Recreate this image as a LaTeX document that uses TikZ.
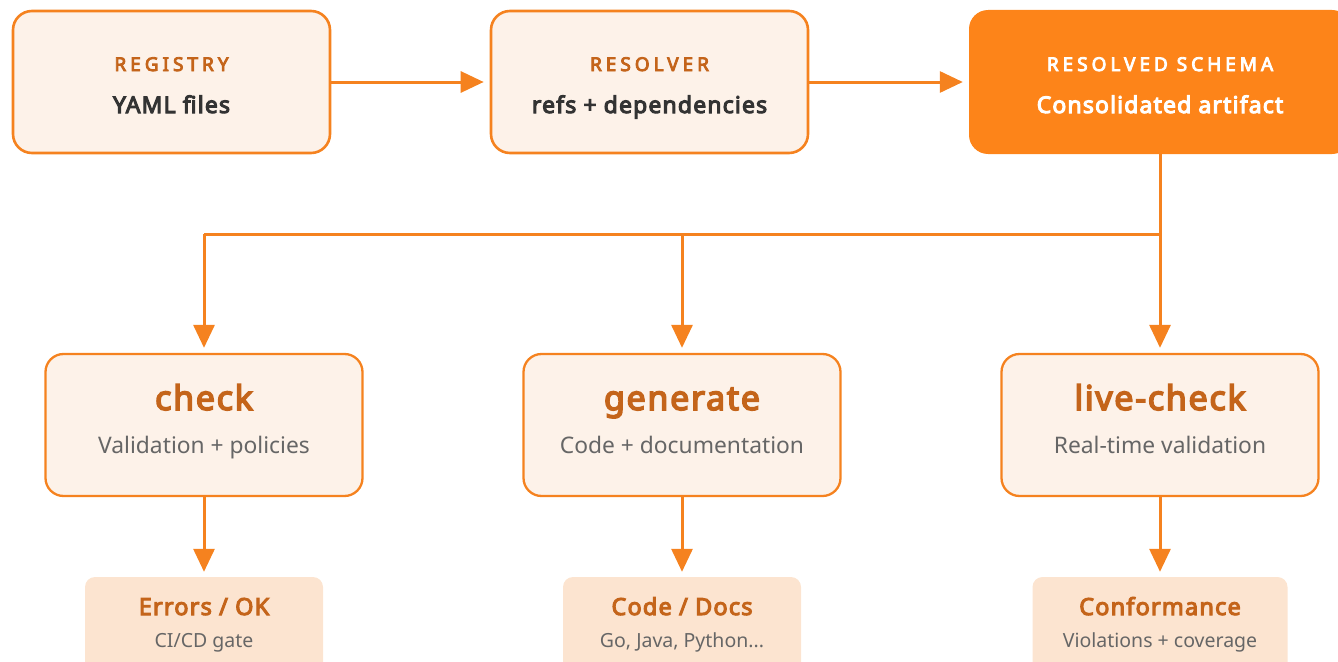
\documentclass[tikz,border=0pt]{standalone}
\usepackage{fontspec}
\setmainfont{Noto Sans}[BoldFont={Noto Sans}, BoldFeatures={FakeBold=4.5, LetterSpace=5}]
\newfontfamily\spacedfont{Noto Sans}[BoldFont={Noto Sans}, BoldFeatures={FakeBold=4.5, LetterSpace=21}]
\usetikzlibrary{arrows.meta}
\definecolor{orline}{HTML}{F5821F}
\definecolor{orfill}{HTML}{FD8419}
\definecolor{lightfill}{HTML}{FDF2E9}
\definecolor{botfill}{HTML}{FCE4D0}
\definecolor{titleor}{HTML}{C4641A}
\definecolor{darktext}{HTML}{333333}
\definecolor{graytext}{HTML}{666666}
\tikzset{
  topbox/.style={draw=orline, line width=2.6pt, fill=lightfill, rounded corners=19pt, minimum width=317pt, minimum height=142pt, inner sep=0pt},
  schemabox/.style={fill=orfill, rounded corners=19pt, minimum width=382pt, minimum height=144pt, inner sep=0pt},
  midbox/.style={draw=orline, line width=2.3pt, fill=lightfill, rounded corners=18pt, minimum width=317pt, minimum height=142pt, inner sep=0pt},
  botbox/.style={fill=botfill, rounded corners=10pt, inner sep=0pt},
  conn/.style={draw=orline, line width=3pt, -{Triangle[length=23pt,width=21pt]}, shorten >=5pt},
  wire/.style={draw=orline, line width=3pt},
  lbl/.style={anchor=base, inner sep=0pt, text=titleor, font=\spacedfont\bfseries\fontsize{19}{21}\selectfont},
  sub/.style={anchor=base, inner sep=0pt, text=darktext, font=\bfseries\fontsize{23}{26}\selectfont},
  bigtitle/.style={anchor=base, inner sep=0pt, text=titleor, font=\bfseries\fontsize{34}{38}\selectfont},
  midsub/.style={anchor=base, inner sep=0pt, text=graytext, font=\fontsize{22.8}{26}\selectfont},
  bottitle/.style={anchor=base, inner sep=0pt, text=titleor, font=\bfseries\fontsize{23.5}{26}\selectfont},
  botsub/.style={anchor=base, inner sep=0pt, text=graytext, font=\fontsize{19.5}{22}\selectfont},
}
\begin{document}
\begin{tikzpicture}[x=1pt,y=-1pt]
\useasboundingbox (0,0) rectangle (1338,661);
\clip (0,0) rectangle (1338,661);
% top row
\node[topbox] (reg) at (171.5,82) {};
\node[topbox] (res) at (649.5,82) {};
\node[schemabox] (sch) at (1160,82) {};
\node[lbl] (regl) at (171.5,71) {REGISTRY};
\node[sub] (regs) at (171.5,113) {YAML files};
\node[lbl] (resl) at (649.5,71) {RESOLVER};
\node[sub] (ress) at (649.5,113) {refs + dependencies};
\node[lbl, text=white] (schl) at (1160,71) {RESOLVED SCHEMA};
\node[sub, text=white] (schs) at (1160,113) {Consolidated artifact};
% middle row
\node[midbox] (chk) at (204,425) {};
\node[midbox] (gen) at (682,425) {};
\node[midbox] (live) at (1160,425) {};
\node[bigtitle] (chkt) at (204,410) {check};
\node[midsub] (chks) at (204,453) {Validation + policies};
\node[bigtitle] (gent) at (682,410) {generate};
\node[midsub] (gens) at (682,453) {Code + documentation};
\node[bigtitle] (livet) at (1160,410) {live-check};
\node[midsub] (lives) at (1160,453) {Real-time validation};
% bottom row
\node[botbox, minimum width=238pt, minimum height=110pt] (err) at (204,632) {};
\node[botbox, minimum width=238pt, minimum height=110pt] (cod) at (682,632) {};
\node[botbox, minimum width=255pt, minimum height=110pt] (conf) at (1160,632) {};
\node[bottitle] (errt) at (204,615) {Errors / OK};
\node[botsub] (errs) at (204,647) {CI/CD gate};
\node[bottitle] (codt) at (682,615) {Code / Docs};
\node[botsub] (cods) at (682,647) {Go, Java, Python...};
\node[bottitle] (conft) at (1160,615) {Conformance};
\node[botsub] (confs) at (1160,647) {Violations + coverage};
% connectors
\draw[conn, shorten >=6pt] (reg.east) -- (res.west);
\draw[conn, shorten >=6pt] (res.east) -- (sch.west);
\coordinate (jr) at (1160,234);
\coordinate (jm) at (682,234);
\coordinate (jl) at (204,234);
\draw[wire] (sch.south) -- (jr);
\draw[wire] (jr) -- (jl);
\draw[conn] (jr) -- (live.north);
\draw[conn] (jm) -- (gen.north);
\draw[conn] (jl) -- (chk.north);
\draw[conn] (chk.south) -- (err.north);
\draw[conn] (gen.south) -- (cod.north);
\draw[conn] (live.south) -- (conf.north);
\end{tikzpicture}
\end{document}
